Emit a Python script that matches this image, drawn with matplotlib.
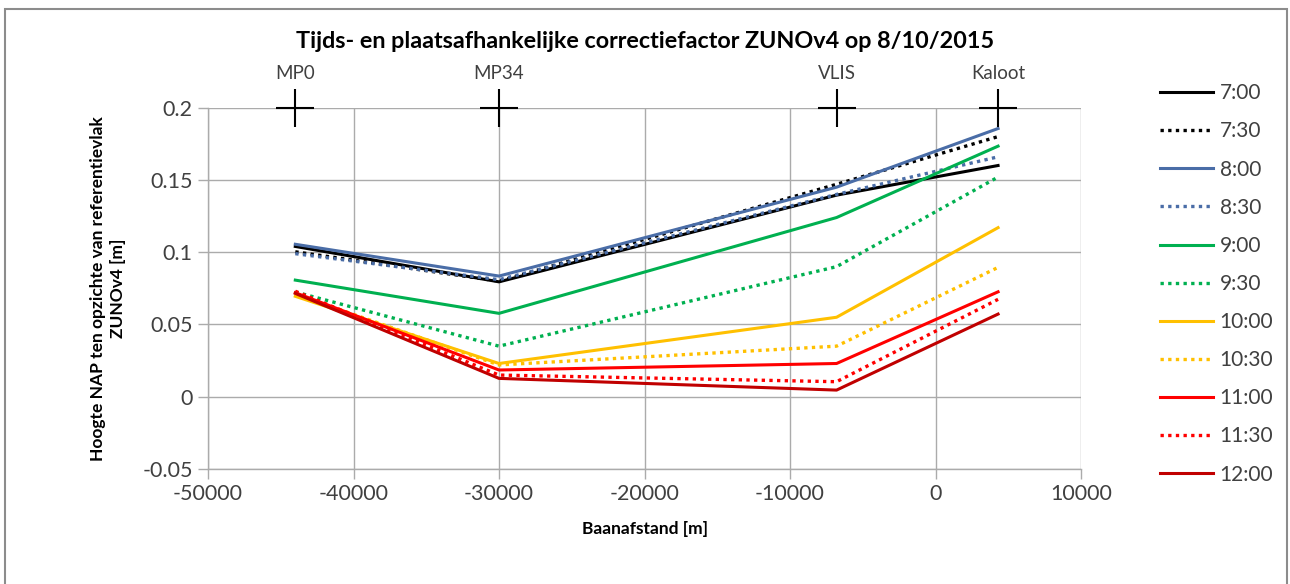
import matplotlib
matplotlib.use("Agg")
import matplotlib.pyplot as plt
from matplotlib.patches import Rectangle

plt.rcParams["font.family"] = ["Lato", "DejaVu Sans"]
plt.rcParams["axes.unicode_minus"] = False

# Measuring points along the track (Baanafstand, m)
site_names = ["MP0", "MP34", "VLIS", "Kaloot"]
site_x = [-44000, -30000, -6800, 4300]

# Correction-surface height at each site, per time of day
times = ["7:00", "7:30", "8:00", "8:30", "9:00", "9:30",
         "10:00", "10:30", "11:00", "11:30", "12:00"]
h_0700 = [0.104, 0.0795, 0.1395, 0.160]
h_0730 = [0.1003, 0.080, 0.147, 0.180]
h_0800 = [0.1055, 0.0835, 0.145, 0.1856]
h_0830 = [0.099, 0.081, 0.140, 0.166]
h_0900 = [0.0807, 0.0577, 0.124, 0.1734]
h_0930 = [0.0725, 0.035, 0.090, 0.152]
h_1000 = [0.0695, 0.023, 0.055, 0.117]
h_1030 = [0.071, 0.022, 0.035, 0.0895]
h_1100 = [0.072, 0.0185, 0.023, 0.0726]
h_1130 = [0.073, 0.015, 0.0104, 0.0674]
h_1200 = [0.0715, 0.0127, 0.0046, 0.0572]
series = [h_0700, h_0730, h_0800, h_0830, h_0900, h_0930,
          h_1000, h_1030, h_1100, h_1130, h_1200]

colors = ["#000000", "#000000", "#4A6DA7", "#4A6DA7", "#00B050", "#00B050",
          "#FFC000", "#FFC000", "#FF0000", "#FF0000", "#C00000"]
dotted = [False, True, False, True, False, True, False, True, False, True, False]

x_ticks = [-50000, -40000, -30000, -20000, -10000, 0, 10000]
x_ticklabels = ["-50000", "-40000", "-30000", "-20000", "-10000", "0", "10000"]
y_ticks = [-0.05, 0.0, 0.05, 0.1, 0.15, 0.2]
y_ticklabels = ["-0.05", "0", "0.05", "0.1", "0.15", "0.2"]

W, H = 1290, 584
fig = plt.figure(figsize=(W / 100, H / 100), dpi=100)
ax = fig.add_axes([208 / W, 1 - 469 / H, 873 / W, 361.3 / H])

grid_c = "#ABABAB"
text_c = "#404040"

handles = []
for vals, c, dot, lab in zip(series, colors, dotted, times):
    if dot:
        ln, = ax.plot(site_x, vals, color=c, lw=2.4, linestyle=(0, (1, 1.3)),
                      label=lab, zorder=3)
    else:
        ln, = ax.plot(site_x, vals, color=c, lw=2.2, label=lab, zorder=3)
    handles.append(ln)

# Site markers on the upper edge, with their names above
ax.plot(site_x, [0.2] * len(site_x), linestyle="none", marker="+", ms=28,
        mew=1.5, color="black", clip_on=False, zorder=5)
for name, xs in zip(site_names, site_x):
    ax.annotate(name, (xs, 0.2), xytext=(0, 34), textcoords="offset pixels",
                ha="center", va="center", fontsize=13.5, color=text_c,
                annotation_clip=False)

ax.set_xlim(-50000, 10000)
ax.set_ylim(-0.05, 0.2)
ax.set_xticks(x_ticks)
ax.set_xticklabels(x_ticklabels)
ax.set_yticks(y_ticks)
ax.set_yticklabels(y_ticklabels)
ax.grid(True, color=grid_c, lw=1.0, zorder=0)
for side in ["top", "right"]:
    ax.spines[side].set_visible(False)
for side in ["left", "bottom"]:
    ax.spines[side].set_color(grid_c)
    ax.spines[side].set_linewidth(1.0)
ax.tick_params(axis="both", colors=grid_c, labelcolor=text_c, labelsize=15.5,
               length=7, width=1.0, direction="out")
ax.tick_params(axis="x", pad=4)
ax.tick_params(axis="y", pad=4)

ax.set_xlabel("Baanafstand [m]", fontsize=12.5, fontweight="bold", color="black")
ax.xaxis.set_label_coords(0.5, -0.145)
ax.set_ylabel("Hoogte NAP ten opzichte van referentievlak\nZUNOv4 [m]",
              fontsize=12.5, fontweight="bold", color="black", linespacing=1.3)
ax.yaxis.set_label_coords(-0.094, 0.5)

fig.text(645.5 / W, 1 - 42 / H,
         "Tijds- en plaatsafhankelijke correctiefactor ZUNOv4 op 8/10/2015",
         ha="center", va="center", fontsize=16.8, fontweight="bold", color="black")

fig.legend(handles=handles, labels=times, loc="upper left",
           bbox_to_anchor=(1152 / W, 1 - 75 / H), frameon=False,
           fontsize=15, handlelength=2.55, handletextpad=0.3,
           labelspacing=0.87, borderaxespad=0, labelcolor=text_c)

fig.patches.append(Rectangle((5 / W, -0.1), (1287 - 5) / W, 1.1 - 9 / H,
                             transform=fig.transFigure, fill=False,
                             edgecolor="#8C8C8C", lw=1.5))

fig.savefig("out.png", dpi=100)
